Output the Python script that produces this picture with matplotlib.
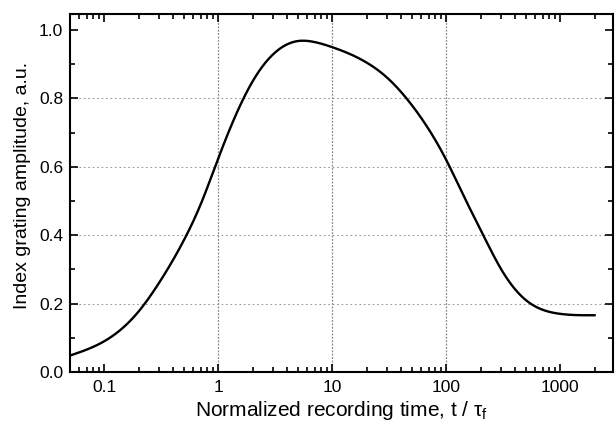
import matplotlib
matplotlib.use("Agg")
import matplotlib.pyplot as plt
from matplotlib.ticker import LogLocator, FixedLocator, MultipleLocator, NullFormatter, FixedFormatter
import numpy as np

# Data
time_norm = [0.05, 0.1, 0.2, 0.3, 0.5, 0.7, 1, 2, 3, 5, 7, 10, 20, 30, 50,
             100, 150, 200, 300, 500, 700, 1000, 2000]
amplitude = [0.048, 0.090, 0.177, 0.259, 0.386, 0.490, 0.625, 0.850, 0.928, 0.968, 0.965, 0.950,
             0.905, 0.862, 0.780, 0.620, 0.499, 0.416, 0.303, 0.210, 0.182, 0.170, 0.166]

x_major = [0.1, 1, 10, 100, 1000]
x_labels = ["0.1", "1", "10", "100", "1000"]
x_grid = [1, 10, 100]
y_grid = [0.2, 0.4, 0.6, 0.8]

plt.rcParams['font.family'] = ['Liberation Sans', 'DejaVu Sans']
plt.rcParams['mathtext.fontset'] = 'custom'
plt.rcParams['mathtext.rm'] = 'Liberation Sans'
plt.rcParams['mathtext.it'] = 'Liberation Sans'

fig = plt.figure(figsize=(6.15, 4.3), dpi=100)
ax = fig.add_axes([0.1138, 0.1349, 0.9967 - 0.1138, 0.9674 - 0.1349])

# natural cubic spline through the read points in log-x
lx = np.log10(time_norm)
y = np.array(amplitude)
n = len(lx)
h = np.diff(lx)
A = np.zeros((n, n))
b = np.zeros(n)
A[0, 0] = 1
A[-1, -1] = 1
for i in range(1, n - 1):
    A[i, i - 1] = h[i - 1]
    A[i, i] = 2 * (h[i - 1] + h[i])
    A[i, i + 1] = h[i]
    b[i] = 6 * ((y[i + 1] - y[i]) / h[i] - (y[i] - y[i - 1]) / h[i - 1])
M = np.linalg.solve(A, b)
xs = np.linspace(lx[0], lx[-1], 800)
idx = np.clip(np.searchsorted(lx, xs) - 1, 0, n - 2)
x0, x1 = lx[idx], lx[idx + 1]
hi = h[idx]
ys = (M[idx] * (x1 - xs)**3 / (6 * hi) + M[idx + 1] * (xs - x0)**3 / (6 * hi)
      + (y[idx] / hi - M[idx] * hi / 6) * (x1 - xs)
      + (y[idx + 1] / hi - M[idx + 1] * hi / 6) * (xs - x0))

for gx in x_grid:
    ax.axvline(gx, color='#888888', lw=0.9, ls=(0, (1.5, 1.2)), zorder=1)
for gy in y_grid:
    ax.axhline(gy, color='#999999', lw=0.8, ls=(0, (1.5, 2.5)), zorder=1)

ax.plot(10**xs, ys, color='black', lw=1.7, zorder=3)

ax.set_xscale('log')
ax.set_xlim(0.05, 2900)
ax.set_ylim(0, 1.047)

ax.xaxis.set_major_locator(FixedLocator(x_major))
ax.xaxis.set_major_formatter(FixedFormatter(x_labels))
ax.xaxis.set_minor_locator(LogLocator(base=10, subs=np.arange(2, 10), numticks=20))
ax.xaxis.set_minor_formatter(NullFormatter())
ax.yaxis.set_major_locator(MultipleLocator(0.2))
ax.yaxis.set_minor_locator(MultipleLocator(0.1))
ax.yaxis.set_major_formatter(plt.FuncFormatter(lambda v, p: f"{v:.1f}"))

ax.tick_params(which='both', direction='in', top=True, right=True, width=1.2, colors='black',
               labelsize=12.5, pad=5)
ax.tick_params(which='major', length=6)
ax.tick_params(which='minor', length=3.5)
ax.tick_params(axis='x', which='major', pad=6)
for s in ax.spines.values():
    s.set_linewidth(1.5)

ax.set_xlabel('Normalized recording time, t / τ$_\\mathregular{f}$', fontsize=15, labelpad=3)
ax.set_ylabel('Index grating amplitude, a.u.', fontsize=14, labelpad=5)
ax.yaxis.set_label_coords(-0.072, 0.52)

fig.savefig('out.png', dpi=100)
